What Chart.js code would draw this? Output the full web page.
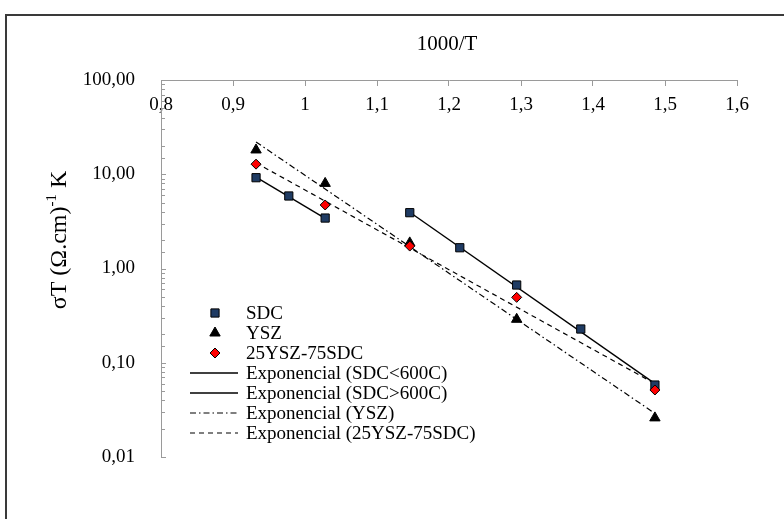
<!DOCTYPE html>
<html>
<head>
<meta charset="utf-8">
<script src="https://cdn.jsdelivr.net/npm/chart.js@4.4.0/dist/chart.umd.min.js"></script>
<style>
  html, body { margin: 0; padding: 0; background: #fff; overflow: hidden; }
  #frame { position: absolute; left: 5px; top: 14px; width: 900px; height: 700px; border: 2px solid #3a3a3a; }
  #wrap { position: absolute; left: 0; top: 0; width: 784px; height: 519px; }
</style>
</head>
<body>
<div id="frame"></div>
<div id="wrap"><canvas id="condChart" width="784" height="519"></canvas></div>
<script>
// 1000/T values
const sdcX = [0.932, 0.9775, 1.028, 1.1455, 1.215, 1.294, 1.383, 1.486];
const sdcY = [9.19, 5.88, 3.43, 3.91, 1.66, 0.668, 0.228, 0.058];

const yszX = [0.932, 1.028, 1.1455, 1.294, 1.486];
const yszY = [18.1, 8.0, 1.87, 0.289, 0.026];

const mixX = [0.932, 1.028, 1.1455, 1.294, 1.486];
const mixY = [12.8, 4.72, 1.73, 0.494, 0.0514];

// trendline end points
const trendSdcLowX = [0.932, 1.028];
const trendSdcLowY = [9.3, 3.4];
const trendSdcHighX = [1.1455, 1.486];
const trendSdcHighY = [3.95, 0.06];
const trendYszX = [0.932, 1.486];
const trendYszY = [22, 0.029];
const trendMixX = [0.932, 1.486];
const trendMixY = [13.2, 0.06];

const xTickValues = [0.8, 0.9, 1.0, 1.1, 1.2, 1.3, 1.4, 1.5, 1.6];
const xTickLabels = ['0,8', '0,9', '1', '1,1', '1,2', '1,3', '1,4', '1,5', '1,6'];
const yTickValues = [100, 10, 1, 0.1, 0.01];
const yTickLabels = ['100,00', '10,00', '1,00', '0,10', '0,01'];

const serif = "'Liberation Serif', 'Times New Roman', serif";
const axisGrey = '#9a9a9a';

function pts(xs, ys) {
    return xs.map((x, i) => ({ x: x, y: ys[i] }));
}

function drawMarker(ctx, style, r, x, y, fill, stroke) {
    ctx.beginPath();
    if (style === 'rect') {
        const s = r * Math.SQRT1_2;
        ctx.rect(x - s, y - s, 2 * s, 2 * s);
    } else if (style === 'triangle') {
        ctx.moveTo(x, y - r);
        ctx.lineTo(x + r * Math.sin(2 * Math.PI / 3), y + r / 2);
        ctx.lineTo(x - r * Math.sin(2 * Math.PI / 3), y + r / 2);
        ctx.closePath();
    } else {
        ctx.moveTo(x - r, y);
        ctx.lineTo(x, y - r);
        ctx.lineTo(x + r, y);
        ctx.lineTo(x, y + r);
        ctx.closePath();
    }
    ctx.fillStyle = fill;
    ctx.fill();
    ctx.lineWidth = 1;
    ctx.strokeStyle = stroke;
    ctx.stroke();
}

const decor = {
    id: 'decor',
    afterDraw(chart) {
        const ctx = chart.ctx;
        const area = chart.chartArea;
        const ys = chart.scales.y;

        // inside tick marks on the y axis
        ctx.save();
        ctx.strokeStyle = axisGrey;
        ctx.lineWidth = 1;
        ys.ticks.forEach(t => {
            const lg = Math.log10(t.value);
            const major = Math.abs(lg - Math.round(lg)) < 1e-6;
            const py = Math.round(ys.getPixelForValue(t.value)) + 0.5;
            ctx.beginPath();
            ctx.moveTo(area.left, py);
            ctx.lineTo(area.left + (major ? 5 : 4), py);
            ctx.stroke();
        });
        ctx.restore();

        // x axis title
        ctx.save();
        ctx.fillStyle = '#000';
        ctx.font = '21px ' + serif;
        ctx.textAlign = 'center';
        ctx.textBaseline = 'middle';
        ctx.fillText('1000/T', (area.left + area.right) / 2 - 2, 44);
        ctx.restore();

        // y axis title with superscript
        ctx.save();
        ctx.translate(60, 240);
        ctx.rotate(-Math.PI / 2);
        ctx.fillStyle = '#000';
        ctx.textBaseline = 'middle';
        const big = '24px ' + serif, small = '15px ' + serif;
        const p1 = 'σT (Ω.cm)', p2 = '-1', p3 = ' K';
        ctx.font = big; const w1 = ctx.measureText(p1).width, w3 = ctx.measureText(p3).width;
        ctx.font = small; const w2 = ctx.measureText(p2).width;
        let x0 = -(w1 + w2 + w3) / 2;
        ctx.font = big; ctx.textAlign = 'left';
        ctx.fillText(p1, x0, 0);
        ctx.font = small; ctx.fillText(p2, x0 + w1, -8);
        ctx.font = big; ctx.fillText(p3, x0 + w1 + w2, 0);
        ctx.restore();

        // legend inside the plot
        ctx.save();
        ctx.font = '19px ' + serif;
        ctx.textBaseline = 'middle';
        ctx.textAlign = 'left';
        chart.data.datasets.forEach((ds, i) => {
            const y = 313 + i * 20;
            if (ds.showLine) {
                ctx.beginPath();
                ctx.setLineDash(ds.borderDash || []);
                ctx.strokeStyle = ds.borderColor;
                ctx.lineWidth = ds.borderWidth;
                ctx.moveTo(190, y);
                ctx.lineTo(238, y);
                ctx.stroke();
                ctx.setLineDash([]);
            } else {
                drawMarker(ctx, ds.pointStyle, ds.pointRadius, 215, y, ds.backgroundColor, ds.borderColor);
            }
            ctx.fillStyle = '#000';
            ctx.fillText(ds.label, 246, y + 1);
        });
        ctx.restore();
    }
};

const ctx = document.getElementById('condChart').getContext('2d');
new Chart(ctx, {
    type: 'scatter',
    data: {
        datasets: [{
            label: 'SDC',
            data: pts(sdcX, sdcY),
            pointStyle: 'rect',
            pointRadius: 5.8,
            backgroundColor: '#1f3b63',
            borderColor: '#000',
            borderWidth: 1,
            order: 1
        }, {
            label: 'YSZ',
            data: pts(yszX, yszY),
            pointStyle: 'triangle',
            pointRadius: 6,
            backgroundColor: '#000',
            borderColor: '#000',
            borderWidth: 1,
            order: 2
        }, {
            label: '25YSZ-75SDC',
            data: pts(mixX, mixY),
            pointStyle: 'rectRot',
            pointRadius: 5,
            backgroundColor: '#ff0000',
            borderColor: '#000',
            borderWidth: 1,
            order: 0
        }, {
            label: 'Exponencial (SDC<600C)',
            data: pts(trendSdcLowX, trendSdcLowY),
            showLine: true,
            pointRadius: 0,
            borderColor: '#000',
            borderWidth: 1.4,
            order: 3
        }, {
            label: 'Exponencial (SDC>600C)',
            data: pts(trendSdcHighX, trendSdcHighY),
            showLine: true,
            pointRadius: 0,
            borderColor: '#000',
            borderWidth: 1.4,
            order: 3
        }, {
            label: 'Exponencial (YSZ)',
            data: pts(trendYszX, trendYszY),
            showLine: true,
            pointRadius: 0,
            borderColor: '#000',
            borderWidth: 1.2,
            borderDash: [6, 3, 1.5, 3],
            order: 3
        }, {
            label: 'Exponencial (25YSZ-75SDC)',
            data: pts(trendMixX, trendMixY),
            showLine: true,
            pointRadius: 0,
            borderColor: '#000',
            borderWidth: 1.2,
            borderDash: [5, 4],
            order: 3
        }]
    },
    options: {
        responsive: false,
        animation: false,
        layout: {
            padding: { left: 6, right: 47, top: 80, bottom: 62 }
        },
        plugins: {
            legend: { display: false },
            tooltip: { enabled: false }
        },
        scales: {
            x: {
                type: 'linear',
                position: { y: 100 },
                min: 0.8,
                max: 1.6,
                afterBuildTicks: s => { s.ticks = xTickValues.map(v => ({ value: v })); },
                ticks: {
                    callback: (v, i) => xTickLabels[i],
                    font: { family: serif, size: 19 },
                    color: '#000',
                    padding: 9,
                    maxRotation: 0,
                    autoSkip: false
                },
                grid: {
                    drawOnChartArea: false,
                    drawTicks: true,
                    tickLength: 5,
                    color: axisGrey
                },
                border: { color: axisGrey }
            },
            y: {
                type: 'logarithmic',
                position: 'left',
                min: 0.01,
                max: 100,
                afterFit: s => { s.width = 155; },
                ticks: {
                    callback: v => {
                        const i = yTickValues.findIndex(t => Math.abs(t - v) / t < 1e-6);
                        return i >= 0 ? yTickLabels[i] : '';
                    },
                    font: { family: serif, size: 19 },
                    color: '#000',
                    padding: 18,
                    autoSkip: false
                },
                grid: { display: false },
                border: { display: true, color: axisGrey }
            }
        }
    },
    plugins: [decor]
});
</script>
</body>
</html>
